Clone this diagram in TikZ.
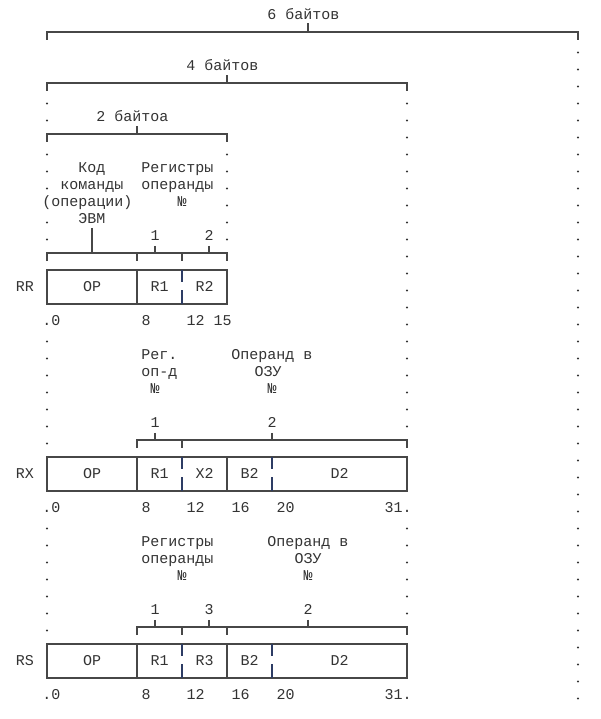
\documentclass[tikz,border=0pt]{standalone}
\usepackage{fontspec}
\setmonofont{Liberation Mono}
\definecolor{splitcol}{RGB}{45,60,100}

\begin{document}
\begin{tikzpicture}[x=1pt, y=-1pt, line width=1.6pt,
  lbl/.style={font=\ttfamily\fontsize{15}{17}\selectfont, text=black!80,
    inner sep=0pt, anchor=base},
  rule/.style={draw=black!72},
  split/.style={draw=splitcol, line width=1.4pt, dash pattern=on 12pt off 8pt on 20pt}]
  % сетка: столбец c -> x = 47+9c, строка r -> y = 15+17r (вниз)
  % базовая линия текста = y+4.5, точка = y+3.5
  \useasboundingbox (0,0) rectangle (601,719);

  % столбцы точек
  \foreach \r in {5,6,8,9,10,12,13} \fill[black!80] (47,{15+17*\r+3.5}) circle (1.1);
  \foreach \r in {19,...,25} \fill[black!80] (47,{15+17*\r+3.5}) circle (1.1);
  \foreach \r in {30,...,36} \fill[black!80] (47,{15+17*\r+3.5}) circle (1.1);
  \foreach \r in {8,...,13} \fill[black!80] (227,{15+17*\r+3.5}) circle (1.1);
  \foreach \r in {5,...,24} \fill[black!80] (407,{15+17*\r+3.5}) circle (1.1);
  \foreach \r in {30,...,35} \fill[black!80] (407,{15+17*\r+3.5}) circle (1.1);
  \foreach \r in {2,...,40} \fill[black!80] (578,{15+17*\r+3.5}) circle (1.1);

  % 6 байтов: 47 .. 578
  \node[lbl] (six) at (303.5,19.5) {6 байтов};
  \draw[rule] (47,40) |- (578,32) -- (578,40);
  \draw[rule] (308,32) -- (308,23);
  % 4 байтов: 47 .. 407
  \node[lbl] (four) at (222.5,70.5) {4 байтов};
  \draw[rule] (47,91) |- (407,83) -- (407,91);
  \draw[rule] (227,83) -- (227,75);
  % 2 байтоа: 47 .. 227
  \node[lbl] (two) at (132.5,121.5) {2 байтоа};
  \draw[rule] (47,142) |- (227,134) -- (227,142);
  \draw[rule] (137,134) -- (137,126);

  % ---- RR ----
  \node[lbl] (kod) at (92,172.5) {Код};
  \node[lbl] (kom) at (92,189.5) {команды};
  \node[lbl] (oper) at (87.5,206.5) {(операции)};
  \node[lbl] (evm) at (92,223.5) {ЭВМ};
  \node[lbl] (regA) at (177.5,172.5) {Регистры};
  \node[lbl] (opdA) at (177.5,189.5) {операнды};
  \node[lbl] (noA) at (182,206.5) {№};
  \node[lbl] (rrOne) at (155,240.5) {1};
  \node[lbl] (rrTwo) at (209,240.5) {2};
  \coordinate (rrT0) at (92,253);
  \coordinate (rrT1) at (155,253);
  \coordinate (rrT2) at (209,253);
  \draw[rule] (47,261) |- (227,253) -- (227,261);
  \draw[rule] (137,253) -- (137,261);
  \draw[rule] (182,253) -- (182,261);
  \draw[rule] ([yshift=-3.5pt]evm.south) -- (rrT0);
  \draw[rule] ([yshift=-4.5pt]rrOne.south) -- (rrT1);
  \draw[rule] ([yshift=-4.5pt]rrTwo.south) -- (rrT2);
  % ячейки 0-7 | 8-11 | 12-15
  \draw[rule] (47,270) rectangle (227,304);
  \draw[rule] (137,270) -- (137,304);
  \draw[split] (182,270) -- (182,304);
  \node[lbl] (rr) at (25,291.5) {RR};
  \node[lbl] (rrOP) at (92,291.5) {OP};
  \node[lbl] (rrR1) at (159.5,291.5) {R1};
  \node[lbl] (rrR2) at (204.5,291.5) {R2};
  \node[lbl] (rrN0) at (51.5,325.5) {.0};
  \node[lbl] (rrN8) at (146,325.5) {8};
  \node[lbl] (rrN12) at (195.5,325.5) {12};
  \node[lbl] (rrN15) at (222.5,325.5) {15};

  % ---- RX ----
  \node[lbl] (regB) at (159.5,359.5) {Рег.};
  \node[lbl] (opdB) at (159.5,376.5) {оп-д};
  \node[lbl] (noB) at (155,393.5) {№};
  \node[lbl] (ozuB1) at (272,359.5) {Операнд в};
  \node[lbl] (ozuB2) at (268,376.5) {ОЗУ};
  \node[lbl] (noB2) at (272,393.5) {№};
  \node[lbl] (rxOne) at (155,427.5) {1};
  \node[lbl] (rxTwo) at (272,427.5) {2};
  \coordinate (rxT1) at (155,440);
  \coordinate (rxT2) at (272,440);
  \draw[rule] (137,448) |- (407,440) -- (407,448);
  \draw[rule] (182,440) -- (182,448);
  \draw[rule] ([yshift=-4.5pt]rxOne.south) -- (rxT1);
  \draw[rule] ([yshift=-4.5pt]rxTwo.south) -- (rxT2);
  % ячейки 0-7 | 8-11 | 12-15 | 16-19 | 20-31
  \draw[rule] (47,457) rectangle (407,491);
  \draw[rule] (137,457) -- (137,491);
  \draw[rule] (227,457) -- (227,491);
  \draw[split] (182,457) -- (182,491);
  \draw[split] (272,457) -- (272,491);
  \node[lbl] (rx) at (25,478.5) {RX};
  \node[lbl] (rxOP) at (92,478.5) {OP};
  \node[lbl] (rxR1) at (159.5,478.5) {R1};
  \node[lbl] (rxX2) at (204.5,478.5) {X2};
  \node[lbl] (rxB2) at (249.5,478.5) {B2};
  \node[lbl] (rxD2) at (339.5,478.5) {D2};
  \node[lbl] (rxN0) at (51.5,512.5) {.0};
  \node[lbl] (rxN8) at (146,512.5) {8};
  \node[lbl] (rxN12) at (195.5,512.5) {12};
  \node[lbl] (rxN16) at (240.5,512.5) {16};
  \node[lbl] (rxN20) at (285.5,512.5) {20};
  \node[lbl] (rxN31) at (398,512.5) {31.};

  % ---- RS ----
  \node[lbl] (regC) at (177.5,546.5) {Регистры};
  \node[lbl] (opdC) at (177.5,563.5) {операнды};
  \node[lbl] (noC) at (182,580.5) {№};
  \node[lbl] (ozuC1) at (308,546.5) {Операнд в};
  \node[lbl] (ozuC2) at (308,563.5) {ОЗУ};
  \node[lbl] (noC2) at (308,580.5) {№};
  \node[lbl] (rsOne) at (155,614.5) {1};
  \node[lbl] (rsThree) at (209,614.5) {3};
  \node[lbl] (rsTwo) at (308,614.5) {2};
  \coordinate (rsT1) at (155,627);
  \coordinate (rsT3) at (209,627);
  \coordinate (rsT2) at (308,627);
  \draw[rule] (137,635) |- (407,627) -- (407,635);
  \draw[rule] (182,627) -- (182,635);
  \draw[rule] (227,627) -- (227,635);
  \draw[rule] ([yshift=-4.5pt]rsOne.south) -- (rsT1);
  \draw[rule] ([yshift=-4.5pt]rsThree.south) -- (rsT3);
  \draw[rule] ([yshift=-4.5pt]rsTwo.south) -- (rsT2);
  \draw[rule] (47,644) rectangle (407,678);
  \draw[rule] (137,644) -- (137,678);
  \draw[rule] (227,644) -- (227,678);
  \draw[split] (182,644) -- (182,678);
  \draw[split] (272,644) -- (272,678);
  \node[lbl] (rs) at (25,665.5) {RS};
  \node[lbl] (rsOP) at (92,665.5) {OP};
  \node[lbl] (rsR1) at (159.5,665.5) {R1};
  \node[lbl] (rsR3) at (204.5,665.5) {R3};
  \node[lbl] (rsB2) at (249.5,665.5) {B2};
  \node[lbl] (rsD2) at (339.5,665.5) {D2};
  \node[lbl] (rsN0) at (51.5,699.5) {.0};
  \node[lbl] (rsN8) at (146,699.5) {8};
  \node[lbl] (rsN12) at (195.5,699.5) {12};
  \node[lbl] (rsN16) at (240.5,699.5) {16};
  \node[lbl] (rsN20) at (285.5,699.5) {20};
  \node[lbl] (rsN31) at (398,699.5) {31.};
\end{tikzpicture}
\end{document}
